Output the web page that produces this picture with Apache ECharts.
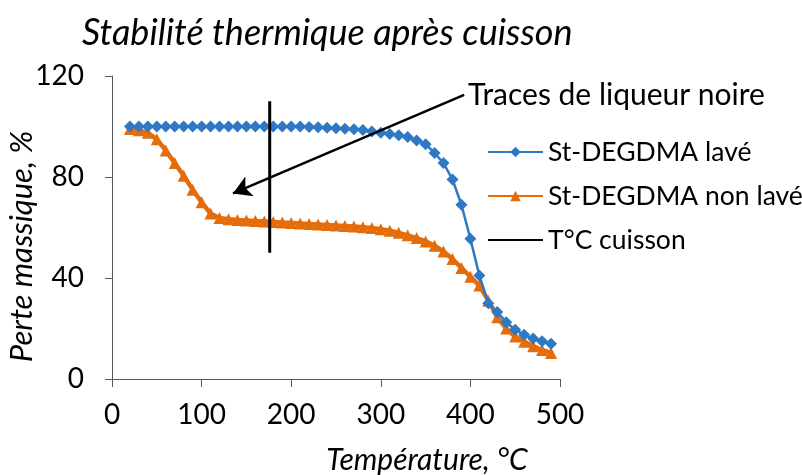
<!DOCTYPE html>
<html>
<head>
<meta charset="utf-8">
<script src="https://cdn.jsdelivr.net/npm/echarts@6/dist/echarts.min.js"></script>
<style>
html,body{margin:0;padding:0;background:#fff;}
#chart{width:802px;height:475px;}
</style>
</head>
<body>
<div id="chart"></div>
<script>
var temperatures = [20,30,40,50,60,70,80,90,100,110,120,130,140,150,160,170,180,190,200,210,220,230,240,250,260,270,280,290,300,310,320,330,340,350,360,370,380,390,400,410,420,430,440,450,460,470,480,490];
var lave = [100,100,100,100,100,100,100,100,100,100,100,100,100,100,100,100,100,100,100,100,99.8,99.7,99.5,99.3,99.1,98.9,98.6,98.0,97.5,97.0,96.5,95.8,94.5,93.0,89.5,85.5,79,69,55.5,41,30,26.5,22.5,19.5,17.5,16,15,14];
var nonLave = [99,98.5,97.5,95,90.5,85.5,80.5,75,70,65.5,63.8,63.3,63,62.8,62.6,62.4,62.2,62,61.8,61.6,61.4,61.2,61,60.8,60.6,60.4,60.1,59.8,59.3,58.7,57.9,56.9,55.8,54.5,52.8,50.5,47.5,44,40.5,37,31,24.5,20,16.8,14.8,13,11.5,10.3];
var cuissonT = [176,176];
var cuissonY = [50,110];
var arrowFrom = [393,112.5];
var arrowTo = [135,73.5];
var xTicks = [0,100,200,300,400,500];
var yTicks = [0,40,80,120];
var names = {lave:'St-DEGDMA lavé', nonLave:'St-DEGDMA non lavé', cuisson:'T°C cuisson'};

var font = 'Lato';
var chart = echarts.init(document.getElementById('chart'), null, {renderer:'canvas'});
function zip(a,b){return a.map(function(v,i){return [v,b[i]];});}
chart.setOption({
  animation:false,
  backgroundColor:'#ffffff',
  textStyle:{fontFamily:font,color:'#000'},
  title:{
    text:'Stabilité thermique après cuisson',
    left:82, top:15, padding:0,
    textStyle:{fontFamily:font,fontSize:36,fontStyle:'italic',fontWeight:'normal',color:'#000'}
  },
  grid:{left:112,right:242,top:76,bottom:96,containLabel:false,outerBoundsMode:'none'},
  legend:{
    orient:'vertical',
    left:487, top:137, padding:0,
    itemWidth:55, itemHeight:13, itemGap:14,
    textStyle:{fontFamily:font,fontSize:26.5,color:'#000',lineHeight:30},
    data:[names.lave,names.nonLave,{name:names.cuisson,itemStyle:{opacity:0}}]
  },
  xAxis:{
    type:'value', min:xTicks[0], max:xTicks[xTicks.length-1], interval:100,
    name:'Température, °C', nameLocation:'middle', nameGap:66, nameMoveOverlap:false,
    nameTextStyle:{fontFamily:font,fontSize:30,fontStyle:'italic',color:'#000',padding:[0,0,0,182]},
    axisLine:{lineStyle:{color:'#595959',width:1}},
    axisTick:{show:true,length:8,lineStyle:{color:'#595959'}},
    axisLabel:{fontFamily:font,fontSize:28,color:'#000',margin:22},
    splitLine:{show:false}
  },
  yAxis:{
    type:'value', min:yTicks[0], max:yTicks[yTicks.length-1], interval:40,
    name:'Perte massique, %', nameLocation:'middle', nameGap:75, nameRotate:90, nameMoveOverlap:false,
    nameTextStyle:{fontFamily:font,fontSize:31,fontStyle:'italic',color:'#000',padding:[0,38,0,0]},
    axisLine:{show:true,lineStyle:{color:'#595959',width:1}},
    axisTick:{show:true,length:7,lineStyle:{color:'#595959'}},
    axisLabel:{fontFamily:font,fontSize:28,color:'#000',margin:28},
    splitLine:{show:false}
  },
  graphic:[{
    type:'text', left:468, top:80,
    style:{text:'Traces de liqueur noire',font:'30px '+font,fill:'#000'}
  }],
  series:[
    {
      name:names.lave, type:'line', data:zip(temperatures,lave),
      symbol:'diamond', symbolSize:12, showSymbol:true,
      lineStyle:{color:'#2F78C4',width:2.5},
      itemStyle:{color:'#2F78C4'},
      z:3
    },
    {
      name:names.nonLave, type:'line', data:zip(temperatures,nonLave),
      symbol:'triangle', symbolSize:12,
      lineStyle:{color:'#E46C0A',width:4.5},
      itemStyle:{color:'#E46C0A'},
      z:2
    },
    {
      name:names.cuisson, type:'line', data:zip(cuissonT,cuissonY),
      symbol:'none',
      lineStyle:{color:'#000',width:3},
      itemStyle:{color:'#000'},
      z:4,
      markLine:{
        silent:true, symbol:['none','arrow'], symbolSize:[16,18],
        label:{show:false},
        lineStyle:{color:'#000',width:2.5,type:'solid'},
        data:[[{coord:arrowFrom},{coord:arrowTo}]]
      }
    }
  ]
});
</script>
</body>
</html>
